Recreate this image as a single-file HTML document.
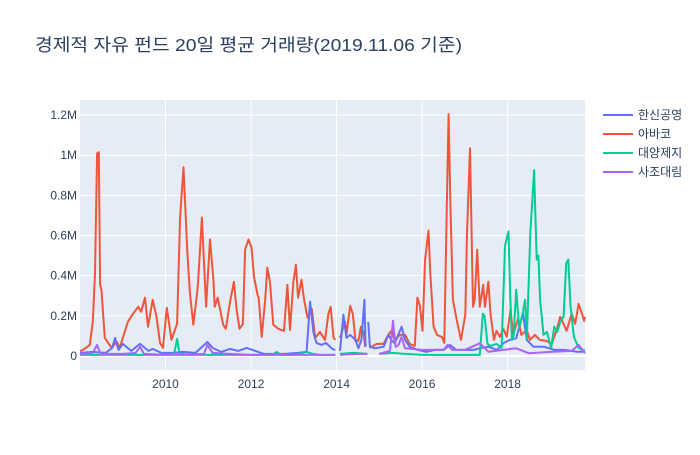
<!DOCTYPE html>
<html><head><meta charset="utf-8">
<style>
body{margin:0;background:#fff;}
svg text{font-family:"Liberation Sans","Noto Sans CJK KR",sans-serif;}
</style></head>
<body>
<svg id="chart" width="700" height="450" xmlns="http://www.w3.org/2000/svg">
<rect width="700" height="450" fill="#fff"/>
<text x="35" y="51" font-size="17.5" textLength="427" lengthAdjust="spacingAndGlyphs" fill="#2a3f5f">경제적 자유 펀드 20일 평균 거래량(2019.11.06 기준)</text>
<rect x="80" y="100" width="505" height="270" fill="#e5ecf6"/>
<g id="grid"></g>
<g id="series"></g>
<g id="legend"></g>
</svg>
<script>
const xTicks=[2010,2012,2014,2016,2018];
const yTicks=[0,200,400,600,800,1000,1200];
const yTickLabels=["0","0.2M","0.4M","0.6M","0.8M","1M","1.2M"];
const seriesNames=["한신공영","아바코","대양제지","사조대림"];
const seriesColors=["#636efa","#EF553B","#00cc96","#ab63fa"];

const blueX=[2008.0,2008.3,2008.6,2008.75,2008.82,2008.9,2009.0,2009.2,2009.4,2009.6,2009.7,2009.9,2010.2,2010.4,2010.7,2010.98,2011.1,2011.3,2011.5,2011.7,2011.9,2012.3,2012.8,2013.1,2013.3,2013.38,2013.46,2013.53,2013.65,2013.75,2013.9,2013.97,2014.02,2014.08,2014.16,2014.23,2014.32,2014.44,2014.51,2014.58,2014.65,2014.68,2014.72,2014.74,2014.78,2014.9,2015.1,2015.21,2015.28,2015.36,2015.52,2015.6,2015.71,2015.9,2016.1,2016.3,2016.5,2016.65,2016.8,2017.0,2017.2,2017.35,2017.55,2017.75,2017.9,2018.05,2018.2,2018.36,2018.45,2018.6,2018.85,2019.1,2019.35,2019.6,2019.81];
const blueY=[15,20,15,40,90,30,60,25,60,25,35,15,15,20,15,70,40,20,35,25,40,10,10,15,20,270,115,65,55,65,35,30,null,25,205,90,105,80,38,80,280,46,null,170,46,38,46,105,80,63,145,80,46,30,20,30,30,55,30,30,30,38,46,30,63,80,88,210,80,46,46,30,30,21,21];

const orangeX=[2008.0,2008.07,2008.23,2008.3,2008.35,2008.4,2008.44,2008.47,2008.5,2008.58,2008.74,2008.86,2008.93,2009.0,2009.12,2009.24,2009.36,2009.43,2009.52,2009.59,2009.7,2009.79,2009.87,2009.94,2010.03,2010.14,2010.22,2010.27,2010.34,2010.42,2010.51,2010.57,2010.65,2010.73,2010.76,2010.85,2010.95,2011.04,2011.12,2011.15,2011.22,2011.35,2011.41,2011.51,2011.6,2011.66,2011.73,2011.81,2011.86,2011.94,2012.01,2012.07,2012.15,2012.18,2012.25,2012.33,2012.38,2012.44,2012.52,2012.64,2012.77,2012.85,2012.91,2012.99,2013.05,2013.1,2013.18,2013.24,2013.32,2013.42,2013.5,2013.61,2013.73,2013.81,2013.86,2013.93,2013.97,2014.02,2014.08,2014.2,2014.23,2014.32,2014.38,2014.44,2014.51,2014.57,2014.63,2014.67,2014.72,2014.77,2014.94,2015.1,2015.21,2015.28,2015.36,2015.48,2015.6,2015.71,2015.83,2015.89,2015.95,2016.01,2016.07,2016.15,2016.19,2016.27,2016.35,2016.46,2016.52,2016.58,2016.62,2016.66,2016.72,2016.81,2016.91,2017.01,2017.05,2017.12,2017.19,2017.23,2017.29,2017.35,2017.43,2017.47,2017.55,2017.6,2017.68,2017.74,2017.82,2017.9,2017.98,2018.07,2018.13,2018.25,2018.32,2018.45,2018.52,2018.64,2018.75,2018.91,2019.03,2019.14,2019.23,2019.31,2019.38,2019.5,2019.58,2019.66,2019.74,2019.79,2019.81];
const orangeY=[25,30,55,170,410,1010,1015,355,330,90,40,70,40,90,170,210,245,220,290,145,280,195,65,40,240,80,130,160,690,940,520,315,155,295,360,690,245,580,380,245,290,155,135,270,370,235,135,160,530,580,540,395,305,290,95,280,440,370,155,135,125,355,130,370,455,290,380,280,190,235,90,120,80,210,245,90,80,null,90,170,105,250,210,80,75,145,120,45,null,40,60,60,105,125,80,105,105,60,50,290,250,125,480,625,420,145,105,95,65,775,1205,775,280,180,80,205,610,1035,245,280,530,245,355,245,370,210,80,125,95,135,95,230,105,190,105,130,80,105,80,75,60,125,195,160,125,210,160,260,210,175,195];

const greenX=[2008.0,2008.5,2009.0,2009.5,2010.0,2010.2,2010.27,2010.33,2010.6,2011.0,2011.5,2012.0,2012.5,2012.6,2012.7,2013.0,2013.3,2013.45,2013.6,2013.97,2014.02,2014.08,2014.4,2014.72,2014.77,2015.0,2015.3,2015.6,2016.0,2016.5,2017.0,2017.35,2017.42,2017.46,2017.53,2017.6,2017.74,2017.86,2017.94,2018.02,2018.06,2018.1,2018.14,2018.2,2018.27,2018.35,2018.41,2018.45,2018.53,2018.62,2018.68,2018.72,2018.76,2018.84,2018.92,2019.02,2019.09,2019.16,2019.24,2019.31,2019.37,2019.42,2019.47,2019.55,2019.66,2019.81];
const greenY=[5,5,5,5,5,10,85,10,5,5,5,5,5,20,5,5,20,10,5,5,null,10,15,10,null,10,15,10,5,5,5,5,210,200,60,50,60,40,550,620,310,80,100,330,140,210,280,80,610,925,480,500,280,105,120,40,145,120,175,195,460,480,250,95,40,25];

const purpleX=[2008.0,2008.3,2008.4,2008.48,2008.7,2009.0,2009.3,2009.4,2009.5,2010.0,2010.5,2010.9,2010.98,2011.1,2011.5,2012.0,2012.5,2013.0,2013.5,2013.97,2014.02,2014.08,2014.5,2014.72,2014.77,2015.0,2015.25,2015.32,2015.38,2015.45,2015.52,2015.6,2016.0,2016.5,2016.6,2016.7,2017.0,2017.35,2017.55,2017.9,2018.2,2018.5,2019.0,2019.5,2019.66,2019.81];
const purpleY=[10,15,55,10,10,10,15,45,10,5,5,10,55,15,10,5,5,5,5,5,null,5,10,10,null,10,25,175,45,55,95,38,30,30,55,30,30,63,21,30,38,13,20,25,55,13];

const X0=2008.0,X1=2019.81,PX0=80,PX1=585;
const Y0=-70,Y1=1275,PY0=370,PY1=100;
function xs(v){return PX0+(v-X0)/(X1-X0)*(PX1-PX0);}
function ys(v){return PY0+(v-Y0)/(Y1-Y0)*(PY1-PY0);}
const NS="http://www.w3.org/2000/svg";
function mk(tag,attrs,parent){const e=document.createElementNS(NS,tag);for(const k in attrs)e.setAttribute(k,attrs[k]);parent.appendChild(e);return e;}

const grid=document.getElementById('grid');
xTicks.forEach((t,i)=>{
  const l=mk('line',{x1:xs(t),x2:xs(t),y1:100,y2:370,stroke:'#fff','stroke-width':1},grid);
  
  
  const tx=mk('text',{x:xs(t),y:388,'text-anchor':'middle','font-size':12,fill:'#2a3f5f'},grid);
  tx.textContent=String(t);
  
  
});
yTicks.forEach((t,i)=>{
  const l=mk('line',{x1:80,x2:585,y1:ys(t),y2:ys(t),stroke:'#fff','stroke-width':t===0?2:1},grid);
  
  
  const tx=mk('text',{x:77,y:ys(t)+4,'text-anchor':'end','font-size':12,fill:'#2a3f5f'},grid);
  tx.textContent=yTickLabels[i];
  
  
});

const sg=document.getElementById('series');
function pathFor(X,Y){let d='',pen=false;for(let i=0;i<X.length;i++){if(Y[i]===null){pen=false;continue;}d+=(pen?'L':'M')+xs(X[i]).toFixed(1)+','+ys(Y[i]).toFixed(1);pen=true;}return d;}
const allX=[blueX,orangeX,greenX,purpleX],allY=[blueY,orangeY,greenY,purpleY];
const order=[1,0,2,3];
order.forEach(i=>{
  const p=mk('path',{d:pathFor(allX[i],allY[i]),fill:'none',stroke:seriesColors[i],'stroke-width':2,'stroke-linejoin':'round'},sg);
  
  
});

const lg=document.getElementById('legend');
seriesNames.forEach((n,i)=>{
  const y=115+i*19;
  const g=mk('g',{},lg);
  
  
  mk('line',{x1:603,x2:633,y1:y,y2:y,stroke:seriesColors[i],'stroke-width':2},g);
  const t=mk('text',{x:638,y:y+4,'font-size':12,fill:'#2a3f5f'},g);
  t.textContent=n;
});
</script>
</body></html>
